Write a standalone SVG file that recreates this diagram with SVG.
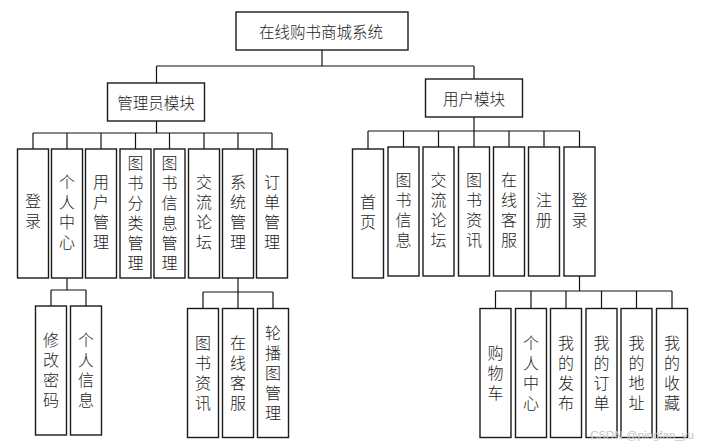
<svg xmlns="http://www.w3.org/2000/svg" width="707" height="448" viewBox="0 0 707 448">
<style>
rect.b{fill:#fff;stroke:#1a1a1a;stroke-width:1.4}
.c line{stroke:#111;stroke-width:1.2}
text{font-family:"Noto Sans CJK SC","Noto Sans",sans-serif;font-weight:300;fill:#1a1a1a;text-anchor:middle}
text.h{font-size:15.5px;dominant-baseline:central}
text.v{font-size:16px;writing-mode:vertical-rl;text-orientation:upright;letter-spacing:4px}
</style>
<rect width="707" height="448" fill="#fff"/>
<g class="c" id="connectors">
<line x1="322" y1="50" x2="322" y2="66"/>
<line x1="156.5" y1="66" x2="474" y2="66"/>
<line x1="156.5" y1="66" x2="156.5" y2="83"/>
<line x1="474" y1="66" x2="474" y2="79"/>
<line x1="156.5" y1="121" x2="156.5" y2="133"/>
<line x1="33" y1="133" x2="272" y2="133"/>
<line x1="33" y1="133" x2="33" y2="149"/>
<line x1="67" y1="133" x2="67" y2="149"/>
<line x1="101" y1="133" x2="101" y2="149"/>
<line x1="135.5" y1="133" x2="135.5" y2="149"/>
<line x1="169.5" y1="133" x2="169.5" y2="149"/>
<line x1="204" y1="133" x2="204" y2="149"/>
<line x1="238" y1="133" x2="238" y2="149"/>
<line x1="272" y1="133" x2="272" y2="149"/>
<line x1="474" y1="117" x2="474" y2="131"/>
<line x1="368" y1="131" x2="579.5" y2="131"/>
<line x1="368" y1="131" x2="368" y2="149"/>
<line x1="403.5" y1="131" x2="403.5" y2="147"/>
<line x1="438.5" y1="131" x2="438.5" y2="147"/>
<line x1="474" y1="131" x2="474" y2="147"/>
<line x1="509" y1="131" x2="509" y2="147"/>
<line x1="544" y1="131" x2="544" y2="147"/>
<line x1="579.5" y1="131" x2="579.5" y2="147"/>
<line x1="67" y1="278" x2="67" y2="290"/>
<line x1="51" y1="290" x2="86" y2="290"/>
<line x1="51" y1="290" x2="51" y2="306"/>
<line x1="86" y1="290" x2="86" y2="306"/>
<line x1="238" y1="278" x2="238" y2="292"/>
<line x1="203" y1="292" x2="273" y2="292"/>
<line x1="203" y1="292" x2="203" y2="308.5"/>
<line x1="238" y1="292" x2="238" y2="308.5"/>
<line x1="273" y1="292" x2="273" y2="308.5"/>
<line x1="579.5" y1="276" x2="579.5" y2="291"/>
<line x1="495.5" y1="291" x2="672" y2="291"/>
<line x1="495.5" y1="291" x2="495.5" y2="308.5"/>
<line x1="531" y1="291" x2="531" y2="308.5"/>
<line x1="566" y1="291" x2="566" y2="308.5"/>
<line x1="601.5" y1="291" x2="601.5" y2="308.5"/>
<line x1="636.5" y1="291" x2="636.5" y2="308.5"/>
<line x1="672" y1="291" x2="672" y2="308.5"/>
</g>
<g id="root"><rect class="b" x="236" y="12" width="172" height="38"/><text class="h" x="321" y="31">在线购书商城系统</text></g>
<g id="admin"><rect class="b" x="107.5" y="83" width="97" height="38"/><text class="h" x="156" y="102">管理员模块</text></g>
<g id="user"><rect class="b" x="425.5" y="79" width="97" height="38"/><text class="h" x="474" y="98">用户模块</text></g>

<g id="a-login"><rect class="b" x="17.5" y="149" width="31" height="129"/><text class="v" x="33" y="213">登录</text></g>
<g id="a-center"><rect class="b" x="51.5" y="149" width="31" height="129"/><text class="v" x="67" y="214">个人中心</text></g>
<g id="a-user"><rect class="b" x="85.5" y="149" width="31" height="129"/><text class="v" x="101" y="214">用户管理</text></g>
<g id="a-cat"><rect class="b" x="120" y="149" width="31" height="129"/><text class="v" x="135.5" y="215">图书分类管理</text></g>
<g id="a-book"><rect class="b" x="154" y="149" width="31" height="129"/><text class="v" x="169.5" y="215">图书信息管理</text></g>
<g id="a-forum"><rect class="b" x="188.5" y="149" width="31" height="129"/><text class="v" x="204" y="214">交流论坛</text></g>
<g id="a-sys"><rect class="b" x="222.5" y="149" width="31" height="129"/><text class="v" x="238" y="214">系统管理</text></g>
<g id="a-order"><rect class="b" x="256.5" y="149" width="31" height="129"/><text class="v" x="272" y="214">订单管理</text></g>

<g id="u-home"><rect class="b" x="352.5" y="149" width="31" height="129"/><text class="v" x="368" y="214">首页</text></g>
<g id="u-book"><rect class="b" x="388" y="147" width="31" height="129"/><text class="v" x="403.5" y="212">图书信息</text></g>
<g id="u-forum"><rect class="b" x="423" y="147" width="31" height="129"/><text class="v" x="438.5" y="212">交流论坛</text></g>
<g id="u-news"><rect class="b" x="458.5" y="147" width="31" height="129"/><text class="v" x="474" y="212">图书资讯</text></g>
<g id="u-service"><rect class="b" x="493.5" y="147" width="31" height="129"/><text class="v" x="509" y="212">在线客服</text></g>
<g id="u-reg"><rect class="b" x="528.5" y="147" width="31" height="129"/><text class="v" x="544" y="212">注册</text></g>
<g id="u-login"><rect class="b" x="564" y="147" width="31" height="129"/><text class="v" x="579.5" y="212">登录</text></g>

<g id="a-pwd"><rect class="b" x="35.5" y="306" width="31" height="129"/><text class="v" x="51" y="372">修改密码</text></g>
<g id="a-info"><rect class="b" x="70.5" y="306" width="31" height="129"/><text class="v" x="86" y="372">个人信息</text></g>
<g id="s-news"><rect class="b" x="187.5" y="308.5" width="31" height="129"/><text class="v" x="203" y="375">图书资讯</text></g>
<g id="s-service"><rect class="b" x="222.5" y="308.5" width="31" height="129"/><text class="v" x="238" y="375">在线客服</text></g>
<g id="s-carousel"><rect class="b" x="257.5" y="308.5" width="31" height="129"/><text class="v" x="273" y="375">轮播图管理</text></g>

<g id="l-cart"><rect class="b" x="480" y="308.5" width="31" height="129"/><text class="v" x="495.5" y="375">购物车</text></g>
<g id="l-center"><rect class="b" x="515.5" y="308.5" width="31" height="129"/><text class="v" x="531" y="375">个人中心</text></g>
<g id="l-pub"><rect class="b" x="550.5" y="308.5" width="31" height="129"/><text class="v" x="566" y="375">我的发布</text></g>
<g id="l-order"><rect class="b" x="586" y="308.5" width="31" height="129"/><text class="v" x="601.5" y="375">我的订单</text></g>
<g id="l-addr"><rect class="b" x="621" y="308.5" width="31" height="129"/><text class="v" x="636.5" y="375">我的地址</text></g>
<g id="l-fav"><rect class="b" x="656.5" y="308.5" width="31" height="129"/><text class="v" x="672" y="375">我的收藏</text></g>

<text x="642" y="435" style="font-family:'Liberation Sans',sans-serif;font-size:11.5px;font-weight:400;fill:#c4c4c4;dominant-baseline:central">CSDN @pingfan_yu</text>
</svg>
